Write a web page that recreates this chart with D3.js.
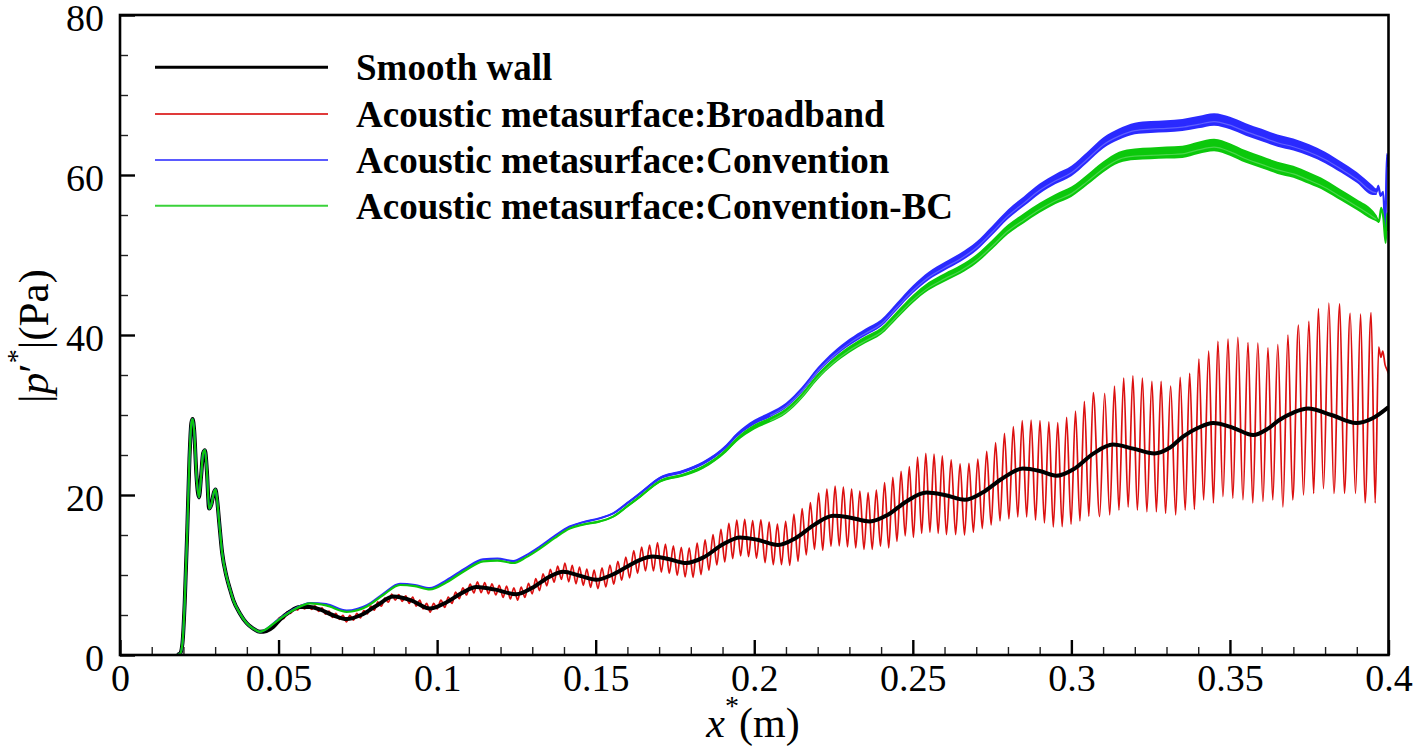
<!DOCTYPE html>
<html><head><meta charset="utf-8">
<script src="https://cdn.jsdelivr.net/npm/d3@7"></script>
<style>body{margin:0;background:#fff} svg{display:block}</style>
</head><body><svg id="c" width="1416" height="751"></svg>
<script>
// ---------- DATA ----------
const xTicks = [0, 0.05, 0.1, 0.15, 0.2, 0.25, 0.3, 0.35, 0.4];
const xTickLabels = ["0", "0.05", "0.1", "0.15", "0.2", "0.25", "0.3", "0.35", "0.4"];
const xMinorTicks = [0.01,0.02,0.03,0.04,0.06,0.07,0.08,0.09,0.11,0.12,0.13,0.14,0.16,0.17,0.18,0.19,0.21,0.22,0.23,0.24,0.26,0.27,0.28,0.29,0.31,0.32,0.33,0.34,0.36,0.37,0.38,0.39];
const yTicks = [0, 20, 40, 60, 80];
const yTickLabels = ["0", "20", "40", "60", "80"];
const yMinorTicks = [5,10,15,25,30,35,45,50,55,65,70,75];
const seriesNames = ["Smooth wall", "Acoustic metasurface:Broadband", "Acoustic metasurface:Convention", "Acoustic metasurface:Convention-BC"];

// common leading profile (all four cases coincide upstream of x*=0.045)
const sharedStart = [[0.018,0],[0.0190,0.2],[0.0197,1.5],[0.0204,6.5],[0.0212,15.5],[0.0219,24.5],[0.0225,29],[0.0229,29.5],[0.0234,28.0],[0.0241,22.5],[0.0249,19.7],[0.0256,22.5],[0.0262,25.2],[0.0268,25.6],[0.0274,23],[0.0281,18.3],[0.0288,18.8],[0.0296,20.3],[0.0301,20.7],[0.0306,19.5],[0.0313,16.5],[0.0322,12.8],[0.0336,9.8],[0.0347,8.2],[0.0357,6.9],[0.0378,5.2],[0.0399,4.0],[0.042,3.3],[0.0441,2.9]];

// Smooth wall
const smoothWall = [[0.0462,3.0],[0.0483,3.5],[0.0504,4.4],[0.0535,5.4],[0.0567,6.0],[0.06,6.0],[0.063,5.7],[0.067,5.0],[0.0715,4.5],[0.076,5.0],[0.081,6.2],[0.0862,7.3],[0.092,6.8],[0.0977,5.8],[0.103,6.6],[0.108,7.8],[0.1124,8.5],[0.118,8.2],[0.125,7.6],[0.13,8.4],[0.1355,9.8],[0.1397,10.4],[0.145,9.9],[0.1502,9.4],[0.155,10.0],[0.1597,11.0],[0.164,11.9],[0.168,12.3],[0.173,12.0],[0.1786,11.5],[0.184,12.2],[0.19,13.8],[0.1955,14.7],[0.201,14.4],[0.2075,13.75],[0.213,14.6],[0.219,16.3],[0.2249,17.4],[0.230,17.2],[0.2364,16.7],[0.242,17.5],[0.248,19.2],[0.2543,20.3],[0.260,20.0],[0.2664,19.4],[0.272,20.3],[0.278,22.0],[0.2847,23.3],[0.290,23.0],[0.2953,22.4],[0.301,23.3],[0.307,25.2],[0.3131,26.3],[0.3195,25.8],[0.3262,25.2],[0.331,25.9],[0.3352,27.3],[0.340,28.4],[0.3447,29.0],[0.351,28.4],[0.3573,27.5],[0.362,28.3],[0.3657,29.4],[0.370,30.3],[0.3746,30.8],[0.382,30.0],[0.3898,29.0],[0.395,29.6],[0.4,31.0]];

// Broadband: successive crests and troughs of the oscillating trace
const broadband = [[0.0462,3.0],[0.0483,3.5],
[0.0505,4.7],[0.0516,4.55],[0.0527,5.4],[0.0538,5.2],[0.0549,5.9],[0.0560,5.6],[0.0571,6.25],[0.0582,5.75],[0.0593,6.25],[0.0604,5.7],[0.0615,6.15],[0.0626,5.45],[0.0637,5.9],[0.0648,5.1],[0.0659,5.5],[0.0670,4.7],[0.0681,5.2],[0.0692,4.45],[0.0703,4.95],[0.0714,4.15],[0.0725,4.95],[0.0736,4.35],[0.0747,5.2],[0.0758,4.65],[0.0769,5.55],[0.0780,5.15],[0.0791,6.1],[0.0802,5.6],[0.0813,6.65],[0.0824,6.1],[0.0835,7.1],[0.0846,6.6],[0.0857,7.6],[0.0868,6.85],[0.0879,7.55],[0.0890,6.7],[0.0901,7.4],[0.0912,6.45],[0.0923,7.25],[0.0934,6.1],[0.0945,6.85],[0.0956,5.75],[0.0967,6.45],[0.0978,5.35],[0.0989,6.45],[0.1000,5.75],
[0.1012,6.85],[0.1024,5.95],[0.1035,7.25],[0.1047,6.45],[0.1058,7.85],[0.1070,7.05],[0.1081,8.4],[0.1093,7.5],[0.1104,8.85],[0.1116,7.75],[0.1127,9.15],[0.1139,7.8],[0.1150,9.05],[0.1162,7.65],[0.1173,8.9],[0.1185,7.5],[0.1196,8.7],[0.1208,7.2],[0.1219,8.6],[0.1231,7.0],[0.1242,8.4],[0.1254,6.85],[0.1265,8.5],[0.1277,7.2],[0.1288,8.95],[0.1300,7.65],[0.1311,9.55],[0.1323,8.05],[0.1334,10.15],[0.1346,8.65],[0.1357,10.7],[0.1369,9.1],[0.1380,11.1],[0.1392,9.45],[0.1403,11.5],[0.1415,9.15],[0.1426,11.2],[0.1438,8.9],[0.1449,11.0],[0.1461,8.7],[0.1472,10.75],[0.1484,8.45],[0.1495,10.6],[0.1507,8.3],
[0.1520,10.9],[0.1532,8.5],[0.1545,11.25],[0.1557,8.85],[0.1570,11.7],[0.1582,9.35],[0.1595,12.25],[0.1607,9.65],[0.1620,13.05],[0.1632,10.2],[0.1645,13.5],[0.1657,10.5],[0.1670,13.75],[0.1682,10.5],[0.1695,14.05],[0.1707,10.35],[0.1720,13.85],[0.1732,10.2],[0.1745,13.65],[0.1757,9.95],[0.1770,13.45],[0.1782,9.75],[0.1795,13.4],[0.1807,9.7],[0.1820,14.0],[0.1832,10.05],[0.1845,14.4],[0.1857,10.6],[0.1870,15.05],[0.1882,11.25],[0.1895,15.7],[0.1907,11.65],[0.1920,16.45],[0.1932,12.05],[0.1945,16.85],[0.1957,12.4],[0.1970,16.95],[0.1982,12.3],[0.1995,16.8],[0.2007,12.1],
[0.2021,16.9],[0.2034,11.55],[0.2047,16.6],[0.2060,11.3],[0.2073,16.35],[0.2086,11.3],[0.2099,16.7],[0.2112,11.2],[0.2125,17.6],[0.2138,11.7],[0.2151,18.3],[0.2164,12.5],[0.2177,19.05],[0.2190,13.2],[0.2203,20.25],[0.2216,13.1],[0.2229,20.75],[0.2242,13.6],[0.2255,21.1],[0.2268,13.65],[0.2281,21.0],[0.2294,13.5],[0.2307,20.75],[0.2320,13.4],[0.2333,20.5],[0.2346,13.2],[0.2359,20.3],[0.2372,13.2],[0.2385,20.6],[0.2398,13.6],[0.2411,21.55],[0.2424,13.4],[0.2437,22.2],[0.2450,14.2],[0.2463,22.95],[0.2476,14.9],[0.2489,23.55],[0.2502,14.7],[0.2515,24.75],[0.2528,15.2],[0.2541,25.2],[0.2554,15.35],[0.2567,25.1],[0.2580,15.2],[0.2593,24.9],[0.2606,15.05],
[0.2621,24.4],[0.2635,15.05],[0.2649,23.9],[0.2663,15.0],[0.2677,23.95],[0.2691,15.35],[0.2705,24.5],[0.2719,15.8],[0.2733,25.45],[0.2747,16.25],[0.2761,26.55],[0.2775,16.75],[0.2789,27.7],[0.2803,17.0],[0.2817,28.55],[0.2831,17.25],[0.2845,29.3],[0.2859,17.25],[0.2873,29.35],[0.2887,16.85],[0.2901,29.3],[0.2915,16.5],[0.2929,29.15],[0.2943,16.0],[0.2957,29.05],[0.2971,16.05],[0.2985,29.7],[0.2999,16.35],[0.3013,30.5],[0.3027,16.75],[0.3041,31.7],[0.3055,17.35],[0.3069,32.8],
[0.3089,17.3],[0.3105,32.7],[0.3121,17.5],[0.3136,33.6],[0.3150,18.1],[0.3165,34.6],[0.3179,18.5],[0.3194,34.9],[0.3208,18.1],[0.3224,34.6],[0.3238,17.9],[0.3254,34.2],[0.3268,17.9],[0.3283,34.2],[0.3297,17.7],[0.3313,33.6],[0.3329,17.5],[0.3343,34.7],[0.3359,18.1],[0.3373,35.2],[0.3388,18.2],[0.3402,37.0],[0.3417,19.4],[0.3433,38.0],[0.3448,19.0],[0.3462,39.2],[0.3478,19.8],[0.3494,39.5],[0.3509,19.6],[0.3525,39.7],[0.3541,19.4],[0.3557,39.05],[0.3572,19.0],[0.3588,39.0],[0.3604,19.2],[0.3620,38.4],[0.3635,19.4],[0.3651,38.8],[0.3667,18.5],[0.3683,40.0],[0.3698,19.4],[0.3716,41.25],[0.3732,20.0],[0.3749,41.7],[0.3764,20.2],[0.3779,43.3],[0.3795,20.8],[0.3812,44.0],[0.3828,20.2],[0.3846,43.9],[0.3861,20.2],[0.3879,42.7],[0.3896,20.2],[0.3912,42.6],[0.3926,19.0],[0.3945,42.8],[0.3958,19.0],[0.3969,38.5],[0.3976,37.2],[0.3982,38.0],[0.3989,36.3],[0.3995,35.7],[0.4,35.2]];

// Convention and Convention-BC: [x, value, half-width of the noisy band]
const convention = [[0.045,3.0,0],[0.05,4.45,0],[0.055,5.75,0],[0.06,6.5,0],[0.065,6.35,0],[0.0715,5.55,0],[0.078,6.25,0],[0.083,7.65,0],[0.0883,8.9,0],[0.093,8.75,0],[0.0977,8.35,0],[0.103,9.35,0],[0.109,10.85,0],[0.1145,11.95,0],[0.119,12.05,0],[0.124,11.75,0],[0.128,12.45,0],[0.1324,13.55,0],[0.137,14.85,0],[0.1418,16.05,0.05],[0.146,16.6,0.08],[0.1513,17.1,0.1],[0.1555,17.7,0.12],[0.16,19.0,0.14],[0.164,20.2,0.16],[0.1702,22.1,0.18],[0.1776,22.95,0.2],[0.1839,24.0,0.22],[0.1912,26.1,0.25],[0.1944,27.45,0.27],[0.2,29.1,0.3],[0.205,30.05,0.32],[0.21,31.2,0.34],[0.215,33.15,0.36],[0.22,35.6,0.38],[0.225,37.55,0.4],[0.23,39.1,0.42],[0.235,40.35,0.44],[0.24,41.5,0.45],[0.245,43.6,0.47],[0.25,45.7,0.49],[0.255,47.4,0.51],[0.26,48.6,0.53],[0.265,49.7,0.55],[0.27,51.1,0.57],[0.275,53.05,0.59],[0.28,55.1,0.6],[0.285,56.7,0.62],[0.29,58.3,0.63],[0.295,59.5,0.64],[0.3,60.5,0.65],[0.305,62.2,0.66],[0.31,64.0,0.68],[0.315,65.1,0.7],[0.32,65.8,0.72],[0.325,66.0,0.74],[0.33,66.1,0.75],[0.335,66.25,0.76],[0.34,66.6,0.77],[0.345,66.95,0.78],[0.35,66.5,0.78],[0.355,65.7,0.78],[0.36,65.0,0.77],[0.365,64.3,0.76],[0.37,63.8,0.75],[0.375,63.1,0.74],[0.38,62.2,0.72],[0.385,61.0,0.7],[0.39,59.7,0.68],[0.395,58.1,0.6],[0.3962,57.9,0.4],[0.3968,58.6,0.2],[0.3975,57.4,0],[0.3983,57.9,0],[0.3990,53.3,0],[0.3995,62.6,0],[0.4,61.0,0]];
const conventionBC = [[0.045,3.0,0],[0.05,4.4,0],[0.055,5.7,0],[0.06,6.45,0],[0.065,6.2,0],[0.0715,5.4,0],[0.078,6.1,0],[0.083,7.5,0],[0.0883,8.75,0],[0.093,8.6,0],[0.0977,8.2,0],[0.103,9.1,0],[0.109,10.6,0],[0.1145,11.7,0],[0.119,11.8,0],[0.124,11.5,0],[0.128,12.2,0],[0.1324,13.3,0],[0.137,14.6,0],[0.1418,15.8,0.05],[0.146,16.3,0.08],[0.1513,16.7,0.1],[0.1555,17.3,0.12],[0.16,18.6,0.14],[0.164,19.8,0.16],[0.1702,21.7,0.18],[0.1776,22.5,0.2],[0.1839,23.5,0.22],[0.1912,25.6,0.25],[0.1944,26.9,0.27],[0.2,28.5,0.3],[0.205,29.4,0.32],[0.21,30.5,0.34],[0.215,32.4,0.36],[0.22,34.8,0.38],[0.225,36.7,0.4],[0.23,38.2,0.42],[0.235,39.4,0.44],[0.24,40.5,0.45],[0.245,42.5,0.47],[0.25,44.5,0.49],[0.255,46.1,0.51],[0.26,47.2,0.53],[0.265,48.2,0.55],[0.27,49.5,0.57],[0.275,51.3,0.59],[0.28,53.2,0.6],[0.285,54.6,0.62],[0.29,55.9,0.63],[0.295,57.0,0.64],[0.3,57.9,0.65],[0.305,59.4,0.66],[0.31,61.0,0.68],[0.315,62.2,0.7],[0.32,62.6,0.72],[0.325,62.7,0.74],[0.33,62.8,0.75],[0.335,62.9,0.76],[0.34,63.4,0.77],[0.345,63.75,0.78],[0.35,63.2,0.78],[0.355,62.3,0.78],[0.36,61.6,0.77],[0.365,60.9,0.76],[0.37,60.4,0.75],[0.375,59.6,0.74],[0.38,58.7,0.72],[0.385,57.5,0.7],[0.39,56.3,0.68],[0.395,55.0,0.6],[0.3962,54.6,0.4],[0.3970,54.2,0.2],[0.3977,55.9,0],[0.3984,54.6,0],[0.3991,51.5,0],[0.3996,55.2,0],[0.4,53.0,0]];

// ---------- LAYOUT / STYLE ----------
const colors = {black:"#000000", red:"#dc1010", blue:"#2a2aff", green:"#0cc80c"};
const legendColors = ["#000000", "#e03a3a", "#5a5aff", "#3ad23a"];
const M = {l:120, r:1388.5, t:15, b:655};
const FONT = "'Liberation Serif','Times New Roman',Times,serif";

const svg = d3.select("#c");
const x = d3.scaleLinear().domain([0,0.4]).range([M.l, M.r]);
const y = d3.scaleLinear().domain([0,80]).range([M.b, M.t]);

svg.append("defs").append("clipPath").attr("id","clip")
  .append("rect").attr("x",M.l).attr("y",M.t).attr("width",M.r-M.l).attr("height",M.b-M.t);

const plot = svg.append("g").attr("clip-path","url(#clip)");

const lineXY = d3.line().x(d=>x(d[0])).y(d=>y(d[1])).curve(d3.curveMonotoneX);

// Broadband (red)
plot.append("path").attr("d", lineXY(sharedStart.concat(broadband)))
  .attr("fill","none").attr("stroke",colors.red).attr("stroke-width",1.7).attr("stroke-linejoin","round");

// Smooth wall (black)
plot.append("path").attr("d", lineXY(sharedStart.concat(smoothWall)))
  .attr("fill","none").attr("stroke",colors.black).attr("stroke-width",4).attr("stroke-linejoin","round");

// Convention bands
function drawBand(data, col, light){
  const band = d3.area().x(d=>x(d[0])).y0(d=>y(d[1]-d[2])).y1(d=>y(d[1]+d[2])).curve(d3.curveMonotoneX);
  plot.append("path").attr("d", band(data)).attr("fill", col).attr("stroke","none");
  plot.append("path").attr("d", lineXY(sharedStart.concat(data.map(d=>[d[0],d[1]]))))
    .attr("fill","none").attr("stroke",col).attr("stroke-width",2.2).attr("stroke-linejoin","round");
  const inner = d3.line().x(d=>x(d[0])).y(d=>y(d[1]-d[2]*0.35)).curve(d3.curveMonotoneX);
  plot.append("path").attr("d", inner(data.filter(d=>d[2]>0.3)))
    .attr("fill","none").attr("stroke",light).attr("stroke-width",1.2).attr("opacity",0.55);
}
drawBand(convention, colors.blue, "#8c8cff");
drawBand(conventionBC, colors.green, "#7fe07f");

// ---------- AXES ----------
const axB = svg.append("g").attr("transform",`translate(0,${M.b})`)
  .call(d3.axisBottom(x).tickValues(xTicks).tickFormat((d,i)=>xTickLabels[i]).tickSize(-15).tickSizeOuter(0).tickPadding(9));
const axBm = svg.append("g").attr("transform",`translate(0,${M.b})`)
  .call(d3.axisBottom(x).tickValues(xMinorTicks).tickFormat("").tickSize(-8).tickSizeOuter(0));
const axL = svg.append("g").attr("transform",`translate(${M.l},0)`)
  .call(d3.axisLeft(y).tickValues(yTicks).tickFormat((d,i)=>yTickLabels[i]).tickSize(-15).tickSizeOuter(0).tickPadding(16));
const axLm = svg.append("g").attr("transform",`translate(${M.l},0)`)
  .call(d3.axisLeft(y).tickValues(yMinorTicks).tickFormat("").tickSize(-8).tickSizeOuter(0));

[axB, axBm, axL, axLm].forEach(g=>{ g.select(".domain").remove(); });
[axB, axL].forEach(g=>{
  g.selectAll(".tick line").attr("stroke","#000").attr("stroke-width",2.4);
  g.selectAll(".tick text").attr("fill","#000").style("font-family",FONT).style("font-size","38px");
});
[axBm, axLm].forEach(g=>{ g.selectAll(".tick line").attr("stroke","#222").attr("stroke-width",1.4); });
axL.selectAll(".tick text").attr("dy","0.4em");

svg.append("rect").attr("x",M.l).attr("y",M.t).attr("width",M.r-M.l).attr("height",M.b-M.t)
  .attr("fill","none").attr("stroke","#000").attr("stroke-width",2.6);

// Axis titles
const xt = svg.append("text").attr("x",753).attr("y",737).attr("text-anchor","middle")
  .style("font-family",FONT).style("font-size","42px").attr("fill","#000");
xt.append("tspan").style("font-style","italic").text("x");
xt.append("tspan").attr("dy",-22).style("font-size","28px").text("*");
xt.append("tspan").attr("dy",22).text("(m)");

const yt = svg.append("text").attr("transform","translate(48,336) rotate(-90)").attr("text-anchor","middle")
  .style("font-family",FONT).style("font-size","43px").attr("fill","#000");
yt.append("tspan").text("|");
yt.append("tspan").style("font-style","italic").text("p");
yt.append("tspan").text("′");
yt.append("tspan").attr("dy",-22).style("font-size","28px").text("*");
yt.append("tspan").attr("dy",22).text("|(Pa)");

// ---------- LEGEND ----------
const legY = [67.3, 114, 160, 205.7];
const legW = [3, 2, 2, 2];
const leg = svg.append("g");
seriesNames.forEach((name,i)=>{
  leg.append("line").attr("x1",155).attr("x2",328).attr("y1",legY[i]).attr("y2",legY[i])
    .attr("stroke",legendColors[i]).attr("stroke-width",legW[i]);
  leg.append("text").attr("x",356).attr("y",legY[i]+12.8)
    .style("font-family",FONT).style("font-size","37px").style("font-weight","bold").attr("fill","#000").text(name);
});
</script></body></html>
